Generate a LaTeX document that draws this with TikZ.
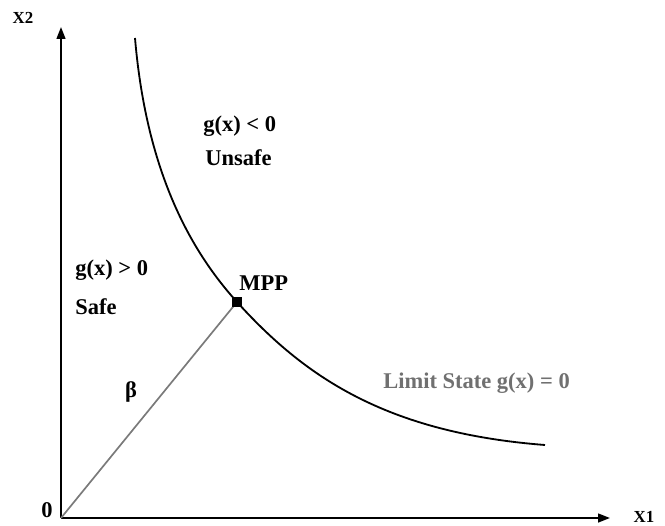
\documentclass[tikz,border=0pt]{standalone}
\usepackage{fontspec}
\setmainfont{Liberation Serif}
\usetikzlibrary{arrows.meta, positioning}
\definecolor{linegray}{HTML}{7A7A7A}
\definecolor{txtgray}{HTML}{707070}

\begin{document}
\begin{tikzpicture}[>={Triangle[length=3mm, width=2.2mm]},
  lbl/.style={font=\fontsize{16}{19}\selectfont\bfseries, inner sep=0pt},
  axlbl/.style={font=\fontsize{12}{14}\selectfont\bfseries, inner sep=0pt}]

% Canvas
\useasboundingbox (0,0) rectangle (16.625,13.125);

% Axes
\coordinate (O) at (1.525,0.175);
\coordinate (xend) at (15.25,0.175);
\coordinate (yend) at (1.525,12.45);
\draw[line width=1.4pt, ->] (O) -- (xend);
\draw[line width=1.4pt, ->] (O) -- (yend);

\node[axlbl] (xlab) at (16.1,0.2) {X1};
\node[axlbl] (ylab) at (0.575,12.675) {X2};
\node[lbl] (orig) at (1.175,0.375) {0};

% Most probable point
\coordinate (mppc) at (5.925,5.575);

% Limit state curve, through the MPP
\draw[line width=1.3pt] (3.375,12.175) .. controls (3.67,8.69) and (4.855,6.76) .. (mppc)
  .. controls (7.6,3.725) and (9.625,2.31) .. (13.625,2.0);

% Reliability index line and MPP marker
\draw[linegray, line width=1.2pt] (O) -- (mppc);
\node[fill, minimum size=0.23cm, inner sep=0pt] (mpp) at (mppc) {};
\node[lbl, anchor=south west] (mpplab) at (5.98,5.85) {MPP};
\node[lbl] (beta) at (3.275,3.325) {β};

% Regions
\node[lbl, anchor=west] (safeg) at (1.875,6.375) {g(x) > 0};
\node[lbl, anchor=west] (safe) at (1.875,5.45) {Safe};
\node[lbl, anchor=west] (unsafeg) at (5.075,9.975) {g(x) < 0};
\node[lbl, anchor=west] (unsafe) at (5.125,9.175) {Unsafe};
\node[lbl, anchor=west, text=txtgray] (limit) at (9.575,3.55) {Limit State g(x) = 0};

\end{tikzpicture}
\end{document}
